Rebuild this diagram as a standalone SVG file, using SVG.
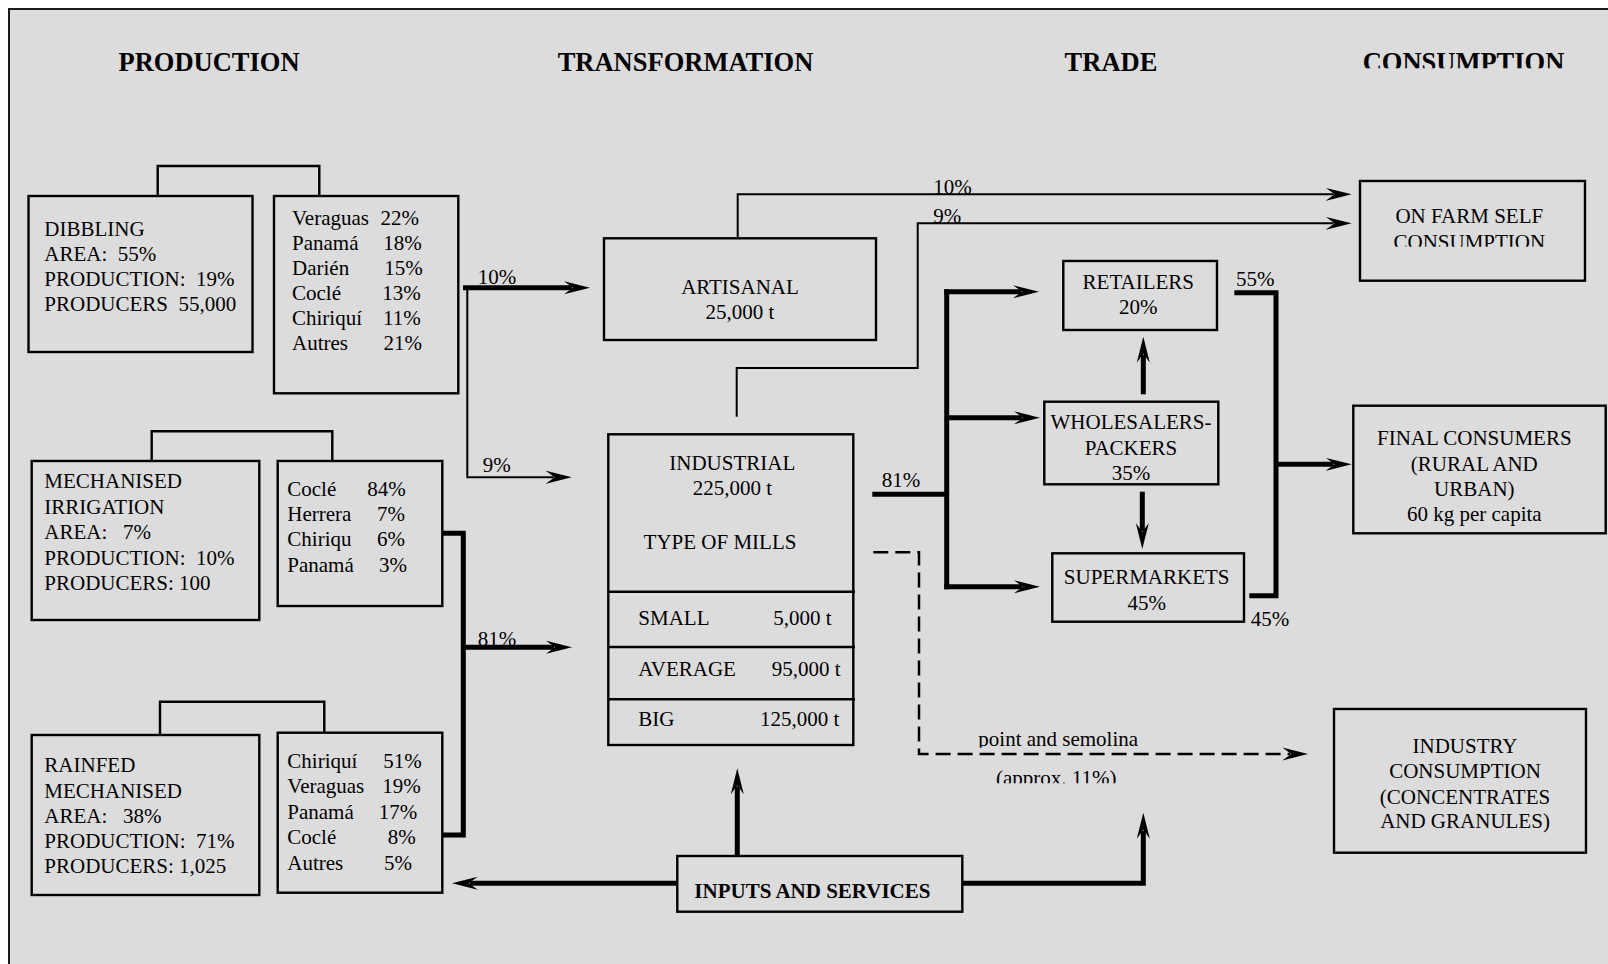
<svg xmlns="http://www.w3.org/2000/svg" width="1608" height="964" viewBox="0 0 1608 964">
  <style>
    .frame { fill: #dcdcdc; stroke: #1a1a1a; stroke-width: 2; }
    .box { fill: none; stroke: #000; stroke-width: 2.4; }
    .t { font-family: "Liberation Serif", "Times New Roman", serif; font-size: 21px; fill: #000; white-space: pre; }
    .h { font-family: "Liberation Serif", "Times New Roman", serif; font-size: 26.5px; font-weight: bold; fill: #000; text-anchor: middle; }
    .b { font-weight: bold; }
    .c { text-anchor: middle; }
    .e { text-anchor: end; }
    .ln { fill: none; stroke: #000; stroke-width: 2; }
    .thk { fill: none; stroke: #000; stroke-width: 5; }
    .dash { fill: none; stroke: #000; stroke-width: 2.5; stroke-dasharray: 15 7; }
    .arr { marker-end: url(#ah); }
  </style>
  <defs>
    <marker id="ah" viewBox="0 0 26 14" refX="8" refY="7" markerWidth="26" markerHeight="14" markerUnits="userSpaceOnUse" orient="auto">
      <path d="M0,0.5 L26,7 L0,13.5 L9,7 Z" fill="#000"/>
    </marker>
    <clipPath id="clipHead"><rect x="1300" y="0" width="300" height="68.3"/></clipPath>
    <clipPath id="clipFarm"><rect x="1360" y="180" width="225" height="66.7"/></clipPath>
    <clipPath id="clipPoint"><rect x="960" y="720" width="200" height="27.7"/></clipPath>
    <clipPath id="clipApprox"><rect x="980" y="760" width="160" height="23.3"/></clipPath>
  </defs>

  <!-- page and frame -->
  <rect x="0" y="0" width="1608" height="964" fill="#ffffff"/>
  <rect class="frame" x="9" y="9" width="1620" height="980"/>

  <!-- column headings -->
  <g id="headings">
    <text class="h" x="209" y="71">PRODUCTION</text>
    <text class="h" x="685.5" y="71">TRANSFORMATION</text>
    <text class="h" x="1111" y="71">TRADE</text>
    <text class="h" x="1463.5" y="71" clip-path="url(#clipHead)">CONSUMPTION</text>
  </g>

  <!-- production: dibbling -->
  <g id="node-dibbling">
    <rect class="box" x="28.5" y="196" width="224" height="156"/>
    <text class="t" x="44.3" y="236">DIBBLING</text>
    <text class="t" x="44.3" y="261">AREA:  55%</text>
    <text class="t" x="44.3" y="286">PRODUCTION:  19%</text>
    <text class="t" x="44.3" y="311">PRODUCERS  55,000</text>
  </g>
  <g id="node-dibbling-regions">
    <rect class="box" x="274" y="196" width="184.3" height="197.3"/>
    <text class="t" x="292" y="225">Veraguas</text><text class="t e" x="419" y="225">22%</text>
    <text class="t" x="292" y="250">Panamá</text><text class="t e" x="421.7" y="250">18%</text>
    <text class="t" x="292" y="275">Darién</text><text class="t e" x="422.7" y="275">15%</text>
    <text class="t" x="292" y="300">Coclé</text><text class="t e" x="420.7" y="300">13%</text>
    <text class="t" x="292" y="325">Chiriquí</text><text class="t e" x="420.7" y="325">11%</text>
    <text class="t" x="292" y="350">Autres</text><text class="t e" x="422" y="350">21%</text>
  </g>

  <!-- production: mechanised irrigation -->
  <g id="node-irrigation">
    <rect class="box" x="31.7" y="461" width="227.6" height="159"/>
    <text class="t" x="44.3" y="488">MECHANISED</text>
    <text class="t" x="44.3" y="513.5">IRRIGATION</text>
    <text class="t" x="44.3" y="539">AREA:   7%</text>
    <text class="t" x="44.3" y="564.5">PRODUCTION:  10%</text>
    <text class="t" x="44.3" y="590">PRODUCERS: 100</text>
  </g>
  <g id="node-irrigation-regions">
    <rect class="box" x="277.7" y="461" width="164.6" height="145"/>
    <text class="t" x="287.3" y="496">Coclé</text><text class="t e" x="405.7" y="496">84%</text>
    <text class="t" x="287.3" y="521">Herrera</text><text class="t e" x="405" y="521">7%</text>
    <text class="t" x="287.3" y="546">Chiriqu</text><text class="t e" x="405" y="546">6%</text>
    <text class="t" x="287.3" y="571.5">Panamá</text><text class="t e" x="407" y="571.5">3%</text>
  </g>

  <!-- production: rainfed mechanised -->
  <g id="node-rainfed">
    <rect class="box" x="31.7" y="735" width="227.6" height="160"/>
    <text class="t" x="44.3" y="772">RAINFED</text>
    <text class="t" x="44.3" y="797.5">MECHANISED</text>
    <text class="t" x="44.3" y="822.5">AREA:   38%</text>
    <text class="t" x="44.3" y="848">PRODUCTION:  71%</text>
    <text class="t" x="44.3" y="873">PRODUCERS: 1,025</text>
  </g>
  <g id="node-rainfed-regions">
    <rect class="box" x="277.7" y="732.7" width="164.6" height="160"/>
    <text class="t" x="287.3" y="768.3">Chiriquí</text><text class="t e" x="421.7" y="768.3">51%</text>
    <text class="t" x="287.3" y="793.3">Veraguas</text><text class="t e" x="420.7" y="793.3">19%</text>
    <text class="t" x="287.3" y="819">Panamá</text><text class="t e" x="417.3" y="819">17%</text>
    <text class="t" x="287.3" y="844">Coclé</text><text class="t e" x="415.7" y="844">8%</text>
    <text class="t" x="287.3" y="869.5">Autres</text><text class="t e" x="412" y="869.5">5%</text>
  </g>

  <!-- transformation -->
  <g id="node-artisanal">
    <rect class="box" x="604" y="238.3" width="272" height="101.7"/>
    <text class="t c" x="740" y="294">ARTISANAL</text>
    <text class="t c" x="740" y="319.3">25,000 t</text>
  </g>
  <g id="node-industrial">
    <rect class="box" x="608.3" y="434.3" width="245" height="310.7"/>
    <text class="t c" x="732.3" y="470">INDUSTRIAL</text>
    <text class="t c" x="732.3" y="495">225,000 t</text>
    <text class="t c" x="720" y="549.3">TYPE OF MILLS</text>
    <path class="ln" style="stroke-width:2.4" d="M608.3,591.7 H855 M608.3,647 H855 M608.3,699.3 H855"/>
    <text class="t" x="638.3" y="625">SMALL</text><text class="t e" x="831.7" y="625">5,000 t</text>
    <text class="t" x="638.3" y="675.7">AVERAGE</text><text class="t e" x="840.7" y="675.7">95,000 t</text>
    <text class="t" x="638.3" y="725.7">BIG</text><text class="t e" x="839.3" y="725.7">125,000 t</text>
  </g>

  <!-- trade -->
  <g id="node-retailers">
    <rect class="box" x="1063.3" y="261" width="153.7" height="69"/>
    <text class="t c" x="1138.3" y="289.3">RETAILERS</text>
    <text class="t c" x="1138.3" y="314.3">20%</text>
  </g>
  <g id="node-wholesalers">
    <rect class="box" x="1044.3" y="401.7" width="174" height="82.6"/>
    <text class="t c" x="1131" y="429.3">WHOLESALERS-</text>
    <text class="t c" x="1131" y="455">PACKERS</text>
    <text class="t c" x="1131" y="480">35%</text>
  </g>
  <g id="node-supermarkets">
    <rect class="box" x="1052.3" y="553.3" width="191.7" height="68.4"/>
    <text class="t c" x="1146.7" y="584">SUPERMARKETS</text>
    <text class="t c" x="1146.7" y="609.5">45%</text>
  </g>

  <!-- consumption -->
  <g id="node-onfarm">
    <rect class="box" x="1360" y="181" width="225" height="99.7"/>
    <text class="t c" x="1469.3" y="223.3">ON FARM SELF</text>
    <text class="t c" x="1469.3" y="249" clip-path="url(#clipFarm)">CONSUMPTION</text>
  </g>
  <g id="node-final">
    <rect class="box" x="1353.3" y="405.7" width="252.4" height="127.6"/>
    <text class="t c" x="1474.3" y="445">FINAL CONSUMERS</text>
    <text class="t c" x="1474.3" y="470.7">(RURAL AND</text>
    <text class="t c" x="1474.3" y="495.7">URBAN)</text>
    <text class="t c" x="1474.3" y="520.7">60 kg per capita</text>
  </g>
  <g id="node-industry">
    <rect class="box" x="1334" y="709" width="252" height="143.7"/>
    <text class="t c" x="1465" y="752.7">INDUSTRY</text>
    <text class="t c" x="1465" y="778.3">CONSUMPTION</text>
    <text class="t c" x="1465" y="804">(CONCENTRATES</text>
    <text class="t c" x="1465" y="828.3">AND GRANULES)</text>
  </g>

  <!-- inputs -->
  <g id="node-inputs">
    <rect class="box" x="677.3" y="856" width="285" height="55.7"/>
    <text class="t b" x="694.3" y="898.3">INPUTS AND SERVICES</text>
  </g>

  <!-- connectors -->
  <g id="connectors">
    <!-- system-to-region brackets -->
    <path class="ln" style="stroke-width:2.4" d="M157.7,196 V166 H319.3 V196"/>
    <path class="ln" style="stroke-width:2.4" d="M151.7,461 V431.3 H332.3 V461"/>
    <path class="ln" style="stroke-width:2.4" d="M160,735 V701.7 H324.3 V732.7"/>

    <!-- dibbling output split -->
    <path class="thk arr" d="M463,287.7 H572"/>
    <path class="ln arr" d="M467.3,287.7 V477.3 H553.7"/>
    <text class="t" x="477.7" y="283.5">10%</text>
    <text class="t" x="482.7" y="472">9%</text>

    <!-- mechanised outputs to industrial mills -->
    <path class="thk" d="M442.3,533.3 H463.3 V835 H442.3"/>
    <path class="thk arr" d="M463.3,647.3 H554"/>
    <text class="t" x="477.7" y="645.5">81%</text>

    <!-- self consumption flows -->
    <path class="ln arr" d="M737.7,238.3 V194.3 H1333.7"/>
    <path class="ln arr" d="M736.7,416.7 V368 H917.7 V223.3 H1333.7"/>
    <text class="t" x="933.3" y="194.3">10%</text>
    <text class="t" x="933.3" y="223.3">9%</text>

    <!-- industrial to trade -->
    <path class="thk" d="M872.3,494.3 H946.7"/>
    <path class="thk" d="M946.7,289.2 V589.2"/>
    <path class="thk arr" d="M944.2,291.7 H1021"/>
    <path class="thk arr" d="M946.7,417.7 H1022"/>
    <path class="thk arr" d="M944.2,586.7 H1022"/>
    <text class="t" x="881.7" y="487.2">81%</text>
    <path class="thk arr" d="M1143.3,394.3 V354.7"/>
    <path class="thk arr" d="M1142.3,491.7 V531"/>

    <!-- trade to final consumers -->
    <path class="thk" d="M1234.3,292.7 H1276 V595.7 H1249.3"/>
    <path class="thk arr" d="M1276,464.3 H1333.7"/>
    <text class="t" x="1236" y="285.6">55%</text>
    <text class="t" x="1250.7" y="625.6">45%</text>

    <!-- by-products to industry -->
    <path class="dash arr" d="M873.3,552.3 H919 V754 H1290.3"/>
    <text class="t" x="978.3" y="746" clip-path="url(#clipPoint)">point and semolina</text>
    <text class="t" x="996" y="785" clip-path="url(#clipApprox)">(approx. 11%)</text>

    <!-- inputs and services -->
    <path class="thk arr" d="M737.3,856 V786.3"/>
    <path class="thk arr" d="M677.3,883.3 H469.7"/>
    <path class="thk arr" d="M962.3,883.3 H1143.3 V830.7"/>
  </g>
</svg>
